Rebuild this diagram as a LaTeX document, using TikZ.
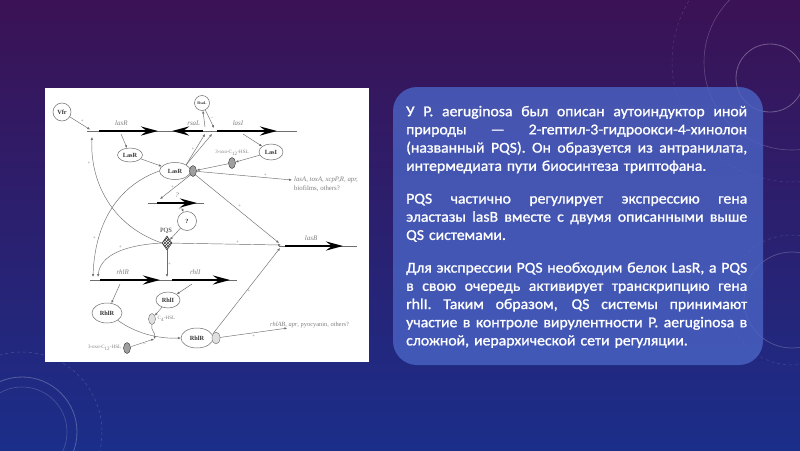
\documentclass[tikz,border=0pt]{standalone}
\usepackage{fontspec}
\setmainfont{Carlito}
\newfontfamily\diafont{Liberation Serif}
\newfontfamily\panelfont{Carlito}[FakeBold=1.1,FakeStretch=1.05]
\usepackage{tikz}
\usetikzlibrary{arrows.meta,positioning,shapes.geometric,patterns}
\definecolor{slidetop}{HTML}{3B1255}
\definecolor{slidemid}{HTML}{2E2370}
\definecolor{slidebot}{HTML}{1B2E8A}
\definecolor{panelblue}{HTML}{4A64C4}
\definecolor{diagrey}{HTML}{6E6E6E}
\definecolor{diadark}{HTML}{353535}
\newcommand{\jline}[1]{{\spaceskip=0pt\xspaceskip=0pt\makebox[341pt][s]{#1}}\par}

\begin{document}
\begin{tikzpicture}[x=1pt,y=-1pt,
  prot/.style={ellipse,draw=diagrey,line width=0.5pt,inner sep=0pt,font=\diafont\bfseries\fontsize{6.3}{7}\selectfont,text=diadark},
  sig/.style={ellipse,draw=diadark,line width=0.4pt,fill=gray!75,minimum width=7pt,minimum height=11pt,inner sep=0pt},
  siglight/.style={sig,fill=gray!25,draw=diagrey},
  gene/.style={line width=2.8pt,-{Stealth[length=17pt,width=9pt,inset=6pt]}},
  dna/.style={draw=diagrey,line width=0.5pt},
  rel/.style={draw=diagrey,line width=0.45pt,-{Latex[length=2.8pt,width=2.4pt]}},
  sgn/.style={font=\diafont\fontsize{5}{5}\selectfont,text=gray,inner sep=0.8pt},
  gname/.style={font=\diafont\itshape\fontsize{7}{7}\selectfont,text=gray,inner sep=0pt},
  target/.style={font=\diafont\fontsize{6.8}{8.5}\selectfont,text=gray,align=left,inner sep=0pt,anchor=west}
]
\useasboundingbox (0,0) rectangle (800,450);
\shade[top color=slidetop,middle color=slidemid,bottom color=slidebot] (0,0) rectangle (800,450);
% background rings
\draw[white,opacity=0.22,line width=0.6pt] (792,62) circle[radius=88];
\draw[white,opacity=0.3,line width=0.8pt] (770,78) circle[radius=34];
\draw[white,opacity=0.15,line width=0.5pt,dashed] (792,62) circle[radius=120];
\draw[white,opacity=0.25,line width=0.8pt] (22,432) circle[radius=55];
\draw[white,opacity=0.2,line width=0.6pt] (22,432) circle[radius=45];
\draw[white,opacity=0.18,line width=0.5pt,dashed] (22,432) circle[radius=80];
\draw[white,opacity=0.22,line width=0.7pt] (792,300) circle[radius=48];
\draw[white,opacity=0.15,line width=0.5pt,dashed] (792,300) circle[radius=65];

% figure sheet and text panel
\fill[white] (45,88) rectangle (369,362);
\fill[panelblue,opacity=0.8,rounded corners=24pt] (393,87) rectangle (763,365);

\node[anchor=north west,text width=341pt,align=left,text=white,inner sep=0pt,
  font=\panelfont\fontsize{15}{18.2}\selectfont] (txt) at (406,104) {%
\parindent=0pt\parskip=0pt
\jline{\rule{0pt}{12pt}У P. aeruginosa был описан аутоиндуктор иной}
\jline{природы — 2-гептил-3-гидроокси-4-хинолон}
\jline{(названный PQS). Он образуется из антранилата,}
интермедиата пути биосинтеза триптофана.\par\vspace{14.5pt}
\jline{PQS частично регулирует экспрессию гена}
\jline{эластазы lasB вместе с двумя описанными выше}
QS системами.\par\vspace{14.5pt}
\jline{Для экспрессии PQS необходим белок LasR, а PQS}
\jline{в свою очередь активирует транскрипцию гена}
\jline{rhlI. Таким образом, QS системы принимают}
\jline{участие в контроле вирулентности P. aeruginosa в}
сложной, иерархической сети регуляции.};

% las operon row
\coordinate (dnaa) at (87,131);
\coordinate (dnab) at (297,131);
\draw[dna] (dnaa) -- (dnab);
\draw[gene] (99,131) -- node[gname,pos=0.38,above=4pt] (lasrg) {lasR} (158,131);
\draw[gene] (203,131) -- node[gname,pos=0.3,above=4pt] (rsalg) {rsaL} (172,131);
\draw[gene] (217,131) -- node[gname,pos=0.35,above=4pt] (lasig) {lasI} (277,131);

\node[prot,minimum width=18pt,minimum height=18pt] (vfr) at (62,112) {Vfr};
\node[prot,minimum width=15pt,minimum height=15pt,font=\diafont\bfseries\fontsize{4}{4}\selectfont] (rsal) at (202,103) {RsaL};
\node[prot,minimum width=25pt,minimum height=14pt] (lasr1) at (130,155) {LasR};
\node[prot,minimum width=31pt,minimum height=17pt] (lasr2) at (175,171) {LasR};
\node[sig] (ai1) at (193,171) {};
\node[prot,minimum width=24pt,minimum height=16pt] (lasi) at (271,152) {LasI};
\node[sig] (oxo1) at (232,163) {};
\node[sgn,above=1pt of oxo1] (oxo1l) {3-oxo-C\textsubscript{12}-HSL};
\node[target] (lasa) at (294,184) {\textit{lasA, toxA, xcpP,R, apr,}\\biofilms, others?};

\coordinate (pr) at (90,129.5);
\coordinate (pr2) at (92,137);
\coordinate (rsalm) at (205,127);
\coordinate (pi1) at (205,134);
\coordinate (pi2) at (212,134);
\coordinate (pi3) at (214,128);
\coordinate (lasrm) at (121,134);
\coordinate (lasim) at (243,134);
\coordinate (lasat) at (292,180);

\draw[rel] (vfr) -- node[sgn,above right] (s1) {+} (pr);
\draw[rel] (rsalm) -- (rsal);
\draw[rel] (rsal) -- node[sgn,right] (s2) {–} (pi3);
\draw[rel] (lasr2.north east) -- node[sgn,left] (s3) {+} (pi1);
\draw[rel] (lasr2.north east) -- (pi2);
\draw[rel] (lasrm) -- (lasr1);
\draw[rel] (lasr1) -- (lasr2);
\draw[rel] (lasim) -- (lasi);
\draw[rel] (lasi) -- (oxo1);
\draw[rel] (oxo1) -- (ai1);
\draw[rel] (ai1) -- node[sgn,above,pos=0.72] (s4) {+} (lasat);

% pqs row
\coordinate (dnac) at (148,203);
\coordinate (dnad) at (204,203);
\draw[dna] (dnac) -- (dnad);
\draw[gene] (157,203) -- node[gname,pos=0.5,above=4pt] (unkg) {?} (197,203);
\coordinate (pq) at (160,199);
\coordinate (unkm) at (181,206);
\node[prot,minimum width=19pt,minimum height=19pt] (unk) at (187,221) {?};
\node[diamond,draw=diadark,line width=0.5pt,pattern=crosshatch,pattern color=diadark,inner sep=0pt,minimum width=10pt,minimum height=14pt] (pqs) at (167,243) {};
\node[font=\diafont\fontsize{6.5}{7}\selectfont,text=diadark,inner sep=0pt] (pqsl) at (166,231) {PQS};

\draw[rel] (ai1.south west) -- node[sgn,left] (s5) {+} (pq);
\draw[rel] (unkm) -- node[sgn,left] (s6) {+} (unk);
\draw[rel] (unk) -- (pqs);

% lasB
\coordinate (dnae) at (279,246);
\coordinate (dnaf) at (357,246);
\draw[dna] (dnae) -- (dnaf);
\draw[gene] (285,246) -- node[gname,pos=0.45,above=4pt] (lasbg) {lasB} (343,246);
\coordinate (pb1) at (279,243);
\coordinate (pb2) at (281,245);
\coordinate (pb3) at (280,248);
\draw[rel] (ai1.south east) -- node[sgn,above right] (s7) {+} (pb1);
\draw[rel] (pqs) -- node[sgn,above,pos=0.6] (s8) {+} (pb2);

% curves to the promoters on the left
\coordinate (prh1) at (93,277);
\coordinate (prh2) at (98,277);
\draw[rel] (pqs.west) .. controls (110,225) and (90,180) .. node[sgn,pos=0.8,left=2pt] (s9) {+} (pr2);
\draw[rel] (lasr2.west) .. controls (120,185) and (95,220) .. node[sgn,pos=0.75,left=2pt] (s10) {+} (prh1);
\draw[rel] (pqs.west) .. controls (125,245) and (100,255) .. node[sgn,pos=0.45,above=1pt] (s11) {+} (prh2);

% rhl row
\coordinate (dnag) at (90,280);
\coordinate (dnah) at (237,280);
\draw[dna] (dnag) -- (dnah);
\draw[gene] (100,280) -- node[gname,pos=0.38,above=4pt] (rhlrg) {rhlR} (160,280);
\draw[gene] (172,280) -- node[gname,pos=0.4,above=4pt] (rhlig) {rhlI} (230,280);
\coordinate (pi4) at (167,277);
\draw[rel] (pqs) -- node[sgn,right] (s12) {+} (pi4);

\node[prot,minimum width=30pt,minimum height=20pt] (rhlr1) at (107,313) {RhlR};
\node[prot,minimum width=24pt,minimum height=16pt] (rhli) at (168,300) {RhlI};
\node[siglight] (c4) at (152,319) {};
\node[sgn,right=1pt of c4] (c4l) {C\textsubscript{4}-HSL};
\node[prot,minimum width=32pt,minimum height=20pt] (rhlr2) at (197,338) {RhlR};
\node[siglight,minimum width=8pt,minimum height=12pt] (ai2) at (216,338) {};
\node[sig] (oxo2) at (127,348) {};
\node[sgn,left=1pt of oxo2] (oxo2l) {3-oxo-C\textsubscript{12}-HSL};
\node[target,font=\diafont\fontsize{6.4}{7}\selectfont] (rhlab) at (270,325) {\textit{rhlAB, apr}, pyocyanin, others?};

\coordinate (rhlrm) at (120,284);
\coordinate (rhlim) at (192,284);
\coordinate (jn) at (154,339);
\draw[rel] (rhlrm) -- (rhlr1);
\draw[rel] (rhlim) -- (rhli);
\draw[rel] (rhli) -- (c4);
\draw[rel] (rhlr1.south east) .. controls (135,333) and (158,339) .. (rhlr2.west);
\draw[rel] (c4.south) .. controls (150,330) and (156,333) .. (jn);
\draw[rel] (oxo2) -- node[sgn,below=1pt,pos=0.6] (s13) {–} (jn);
\draw[rel] (ai2) -- node[sgn,below=1pt] (s14) {+} (rhlab);
\draw[rel] (ai2.north west) -- node[sgn,right] (s15) {+} (pb3);
\end{tikzpicture}
\end{document}
